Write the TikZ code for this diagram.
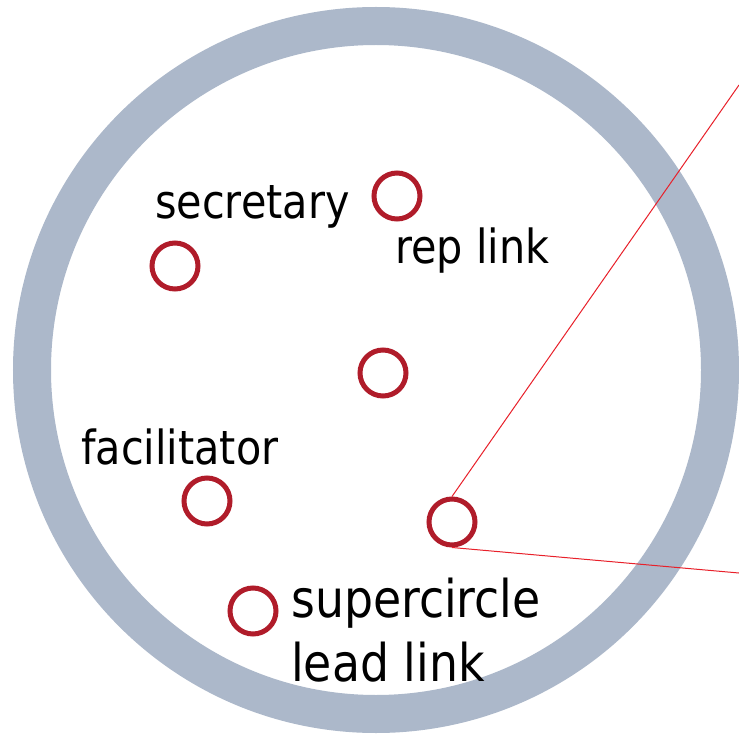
\documentclass[tikz,border=0pt]{standalone}
\usepackage{fontspec}
\setmainfont{DejaVu Sans}[FakeStretch=0.88]
\definecolor{ringgray}{HTML}{ACB8CA}
\definecolor{roledark}{HTML}{B01C2A}
\definecolor{linkred}{HTML}{E8202A}
\begin{document}
\begin{tikzpicture}[x=1pt,y=-1pt,
  role/.style={circle,draw=roledark,line width=5pt,minimum size=46pt,inner sep=0pt},
  lbl/.style={anchor=base west,inner sep=0pt,font=\fontsize{47}{56}\selectfont,text=black},
  biglbl/.style={lbl,font=\fontsize{52}{62}\selectfont},
  link/.style={draw=linkred,line width=1pt}]
\useasboundingbox (0,0) rectangle (739,738);
\fill[white] (0,0) rectangle (739,738);
\draw[ringgray,line width=38pt] (376,370) circle (344pt);
\node[role] (sec) at (175,266) {};
\node[role] (rep) at (397,196) {};
\node[role] (mid) at (383,373) {};
\node[role] (fac) at (207,501) {};
\node[role] (sub) at (452,522) {};
\node[role] (sup) at (253,611) {};
\coordinate (e1) at (739,85);
\coordinate (e2) at (739,573);
\draw[link] (sub.north) -- (e1);
\draw[link] (sub.south) -- (e2);
\node[lbl] (tsec) at (155,219) {secretary};
\node[lbl] (trep) at (395,264) {rep link};
\node[lbl] (tfac) at (81,464) {facilitator};
\node[biglbl] (tsup) at (291,617) {supercircle};
\node[biglbl] (tlead) at (291,681) {lead link};
\end{tikzpicture}
\end{document}
